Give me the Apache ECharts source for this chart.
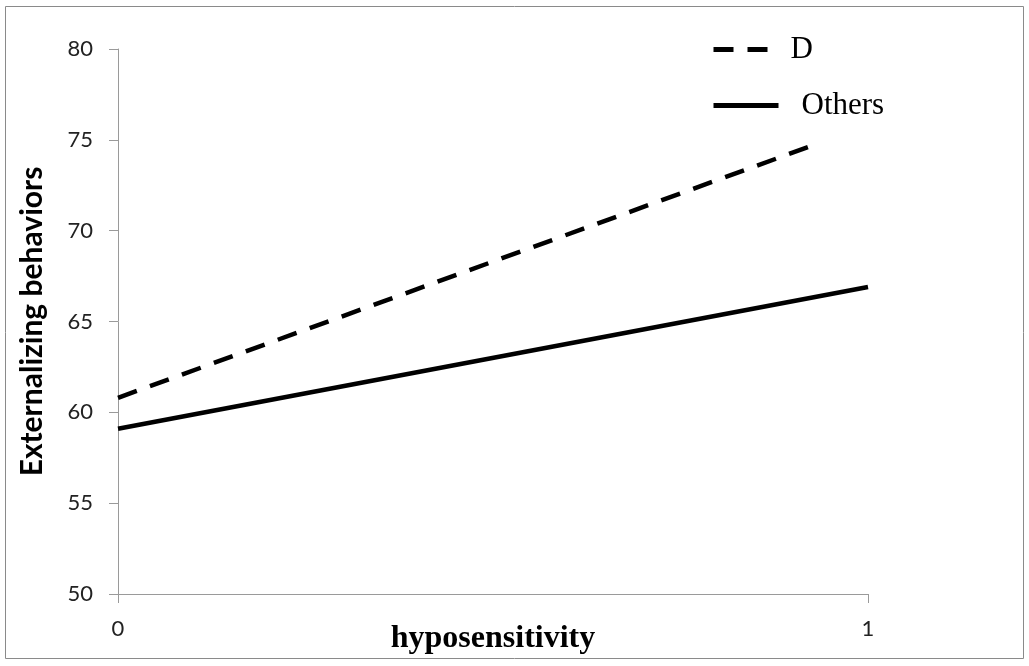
<!DOCTYPE html>
<html>
<head>
<meta charset="utf-8">
<title>Externalizing behaviors by hyposensitivity</title>
<script src="https://cdn.jsdelivr.net/npm/echarts@6/dist/echarts.min.js"></script>
<style>
  html, body { margin: 0; padding: 0; background: #fff; }
  #chart { width: 1029px; height: 666px; }
</style>
</head>
<body>
<div id="chart"></div>
<script>
// Data
const seriesNames = ['D', 'Others'];
const dPoints = [[0, 60.8], [0.92, 74.6]];
const othersPoints = [[0, 59.1], [1, 66.9]];
const yTicks = { min: 50, max: 80, step: 5 };
const xTicks = { min: 0, max: 1, step: 1 };

const chart = echarts.init(document.getElementById('chart'));

const option = {
  animation: false,
  backgroundColor: '#fff',
  graphic: [{
    // outer frame
    type: 'rect',
    shape: { x: 5.5, y: 6.5, width: 1018, height: 652 },
    style: { fill: 'none', stroke: '#8a8a8a', lineWidth: 1 },
    silent: true
  }],
  legend: {
    left: 706,
    top: 29,
    orient: 'vertical',
    itemWidth: 65,
    itemHeight: 14,
    itemGap: 25,
    itemStyle: { color: 'transparent', borderWidth: 0 },
    lineStyle: { width: 5, color: '#000' },
    textStyle: {
      fontFamily: '"Liberation Serif", "Times New Roman", serif',
      fontSize: 31,
      color: '#000'
    },
    data: [
      { name: 'D', textStyle: { padding: [0, 0, 0, 7] } },
      { name: 'Others', textStyle: { padding: [0, 0, 0, 18] } }
    ]
  },
  grid: {
    left: 118,
    right: 161,
    top: 49,
    bottom: 72,
    containLabel: false,
    outerBoundsMode: 'none'
  },
  xAxis: {
    type: 'value',
    min: xTicks.min,
    max: xTicks.max,
    interval: xTicks.step,
    name: 'hyposensitivity',
    nameLocation: 'middle',
    nameGap: 29,
    nameMoveOverlap: false,
    nameTextStyle: {
      fontFamily: '"Liberation Serif", "Times New Roman", serif',
      fontWeight: 'bold',
      fontSize: 32,
      color: '#000'
    },
    splitLine: { show: false },
    axisLine: { show: true, lineStyle: { color: '#9a9a9a', width: 1 } },
    axisTick: { show: true, length: 9, lineStyle: { color: '#9a9a9a' } },
    axisLabel: {
      margin: 24,
      fontFamily: 'Lato, sans-serif',
      fontSize: 22,
      color: '#222'
    }
  },
  yAxis: {
    type: 'value',
    min: yTicks.min,
    max: yTicks.max,
    interval: yTicks.step,
    name: 'Externalizing behaviors',
    nameLocation: 'middle',
    nameGap: 71,
    nameMoveOverlap: false,
    nameTextStyle: {
      fontFamily: 'Lato, sans-serif',
      fontWeight: 'bold',
      fontSize: 30,
      color: '#000'
    },
    splitLine: { show: false },
    axisLine: { show: true, lineStyle: { color: '#9a9a9a', width: 1 } },
    axisTick: { show: true, length: 9, lineStyle: { color: '#9a9a9a' } },
    axisLabel: {
      margin: 25,
      fontFamily: 'Lato, sans-serif',
      fontSize: 22,
      color: '#222'
    }
  },
  series: [
    {
      name: seriesNames[0],
      type: 'line',
      data: dPoints,
      symbol: 'none',
      lineStyle: { color: '#000', width: 4.5, type: [20, 14] },
      itemStyle: { color: '#000' }
    },
    {
      name: seriesNames[1],
      type: 'line',
      data: othersPoints,
      symbol: 'none',
      lineStyle: { color: '#000', width: 4.5, type: 'solid' },
      itemStyle: { color: '#000' }
    }
  ]
};

chart.setOption(option);
</script>
</body>
</html>
